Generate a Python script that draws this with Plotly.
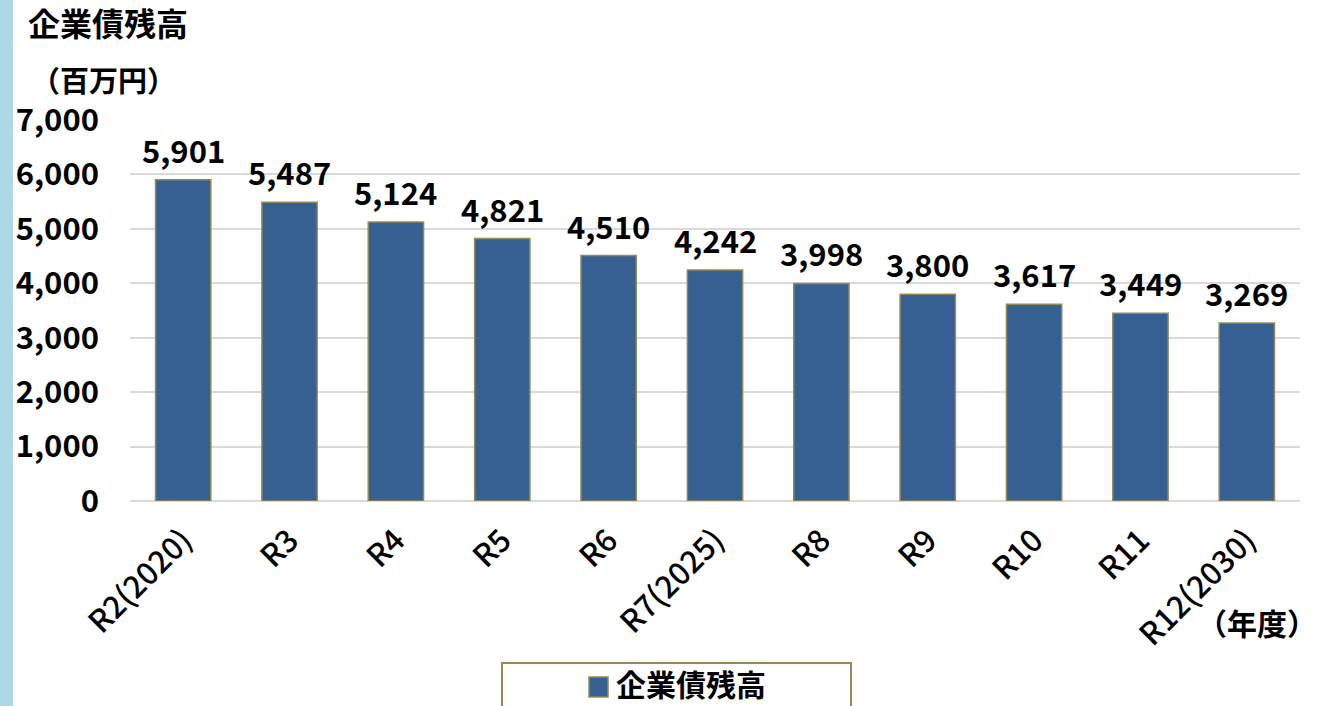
import plotly.graph_objects as go

# データ
years = ['R2(2020)', 'R3', 'R4', 'R5', 'R6', 'R7(2025)', 'R8', 'R9', 'R10', 'R11', 'R12(2030)']
balance = [5901, 5487, 5124, 4821, 4510, 4242, 3998, 3800, 3617, 3449, 3269]
y_ticks = [0, 1000, 2000, 3000, 4000, 5000, 6000, 7000]
series_name = '企業債残高'

FONT = 'Noto Sans CJK JP'
BAR_COLOR = '#376092'
EDGE_COLOR = '#948A54'
NUM_SIZE = 31
JP_SIZE = 32

# plot area in pixels (for placing the surrounding text)
L, R, T, B = 130, 1300, 120, 501


def px_x(p):
    return (p - L) / (R - L)


def px_y(p):
    return (B - p) / (B - T)


fig = go.Figure()

fig.add_trace(go.Bar(
    name=series_name,
    x=years,
    y=balance,
    marker=dict(color=BAR_COLOR, line=dict(color=EDGE_COLOR, width=1.5)),
    showlegend=False
))

# ラベル（棒の上）
for x, v in zip(years, balance):
    fig.add_annotation(
        x=x, y=v, text=f'{v:,}', showarrow=False,
        yanchor='bottom', yshift=6,
        font=dict(family=FONT, size=NUM_SIZE, color='black', weight='bold')
    )

fig.add_annotation(
    xref='paper', yref='paper', x=px_x(26), y=px_y(22),
    text='企業債残高', showarrow=False, xanchor='left', yanchor='middle',
    font=dict(family=FONT, size=JP_SIZE, color='black', weight='bold')
)
fig.add_annotation(
    xref='paper', yref='paper', x=px_x(29), y=px_y(79),
    text='（百万円）', showarrow=False, xanchor='left', yanchor='middle',
    font=dict(family=FONT, size=29, color='black', weight='bold')
)
fig.add_annotation(
    xref='paper', yref='paper', x=px_x(1319), y=px_y(622),
    text='（年度）', showarrow=False, xanchor='right', yanchor='middle',
    font=dict(family=FONT, size=30, color='black', weight='bold')
)

# 凡例（手書き）
fig.add_shape(type='rect', xref='paper', yref='paper',
              x0=px_x(502), x1=px_x(851), y0=px_y(663), y1=px_y(720),
              line=dict(color=EDGE_COLOR, width=2), fillcolor='white', layer='below')
fig.add_shape(type='rect', xref='paper', yref='paper',
              x0=px_x(589), x1=px_x(608), y0=px_y(677), y1=px_y(697),
              line=dict(color=EDGE_COLOR, width=1.5), fillcolor=BAR_COLOR)
fig.add_annotation(
    xref='paper', yref='paper', x=px_x(614), y=px_y(683),
    text=series_name, showarrow=False, xanchor='left', yanchor='middle',
    font=dict(family=FONT, size=30, color='black', weight='bold')
)

# 左端の帯
fig.add_shape(type='rect', xref='paper', yref='paper',
              x0=px_x(0), x1=px_x(13), y0=px_y(-5), y1=px_y(720),
              line=dict(width=0), fillcolor='#ADD8E6', layer='below')

fig.update_layout(
    width=1319, height=706,
    margin=dict(l=L, r=1319 - R, t=T, b=706 - B),
    plot_bgcolor='white',
    paper_bgcolor='white',
    bargap=0.48,
    font=dict(family=FONT, color='black'),
    xaxis=dict(
        tickangle=-45,
        tickfont=dict(family=FONT, size=NUM_SIZE, color='black', weight=500),
        showline=False,
        ticks='',
        ticklabelstandoff=14
    ),
    yaxis=dict(
        range=[0, 7000],
        tickvals=y_ticks,
        tickformat=',',
        tickfont=dict(family=FONT, size=NUM_SIZE, color='black', weight='bold'),
        showgrid=True,
        gridcolor='#D9D9D9',
        gridwidth=1.5,
        zeroline=True,
        zerolinecolor='#D9D9D9',
        zerolinewidth=2,
        ticklabelstandoff=30
    )
)

fig.write_html('out.html', config={'displayModeBar': False},
               post_script="document.body.style.margin='0';")
